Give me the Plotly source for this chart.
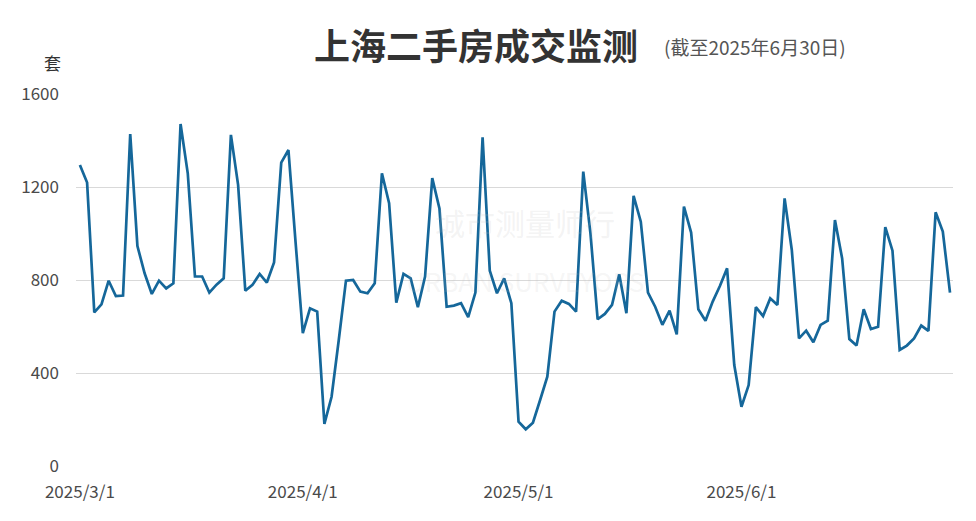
import pandas as pd
import plotly.graph_objects as go

start_date = "2025-03-01"
end_date = "2025-06-30"
volumes = [
    1295, 1219, 661, 695, 797, 731, 733, 1428, 946, 829,
    740, 797, 764, 786, 1471, 1259, 815, 815, 746, 780,
    807, 1424, 1209, 754, 779, 826, 789, 875, 1305, 1359,
    960, 571, 678, 664, 181, 298, 542, 797, 800, 750,
    743, 786, 1259, 1130, 703, 826, 807, 683, 815, 1238,
    1108, 685, 690, 700, 640, 746, 1414, 840, 743, 807,
    700, 191, 158, 186, 284, 384, 664, 711, 697, 664,
    1266, 1001, 631, 654, 693, 825, 657, 1162, 1051, 746,
    685, 607, 668, 566, 1116, 1004, 674, 625, 707, 774,
    850, 434, 255, 348, 683, 645, 721, 693, 1151, 929,
    549, 582, 532, 607, 625, 1058, 893, 546, 518, 674,
    589, 599, 1027, 926, 499, 518, 549, 604, 581, 1091,
    1008, 746,
]
dates = pd.date_range(start_date, end_date, freq="D")
tick_dates = ["2025-03-01", "2025-04-01", "2025-05-01", "2025-06-01"]
tick_labels = ["2025/3/1", "2025/4/1", "2025/5/1", "2025/6/1"]
y_ticks = [0, 400, 800, 1200, 1600]

title_text = "上海二手房成交监测"
subtitle_text = "(截至2025年6月30日)"
unit_text = "套"

font_family = "Noto Sans CJK SC, Noto Sans, sans-serif"

W, H = 976, 521
ML, MR, MT, MB = 76, 23, 94, 55

fig = go.Figure()
fig.add_trace(go.Scatter(
    x=dates, y=volumes, mode="lines",
    line=dict(color="#15679a", width=2.7),
    hoverinfo="x+y", showlegend=False,
))

fig.update_layout(
    width=W, height=H,
    margin=dict(l=ML, r=MR, t=MT, b=MB, autoexpand=False),
    paper_bgcolor="white", plot_bgcolor="white",
    font=dict(family=font_family, color="#444"),
    xaxis=dict(
        range=[pd.Timestamp("2025-02-28 11:00"), pd.Timestamp("2025-06-30 10:00")],
        tickvals=pd.to_datetime(tick_dates), ticktext=tick_labels,
        showgrid=False, zeroline=False, showline=False, ticks="",
        tickfont=dict(size=17, color="#4a4a4a"), ticklabelstandoff=14,
    ),
    yaxis=dict(
        range=[0, 1600], tickvals=y_ticks,
        showgrid=True, gridcolor="#d9d9d9", gridwidth=1,
        zeroline=False, showline=False, ticks="",
        tickfont=dict(size=17, color="#4a4a4a"), ticklabelstandoff=16,
    ),
)

def px_ann(text, px, py, size, color, bold=False):
    plot_w = W - ML - MR
    plot_h = H - MT - MB
    fig.add_annotation(
        text=("<b>" + text + "</b>") if bold else text,
        x=(px - ML) / plot_w, y=1 - (py - MT) / plot_h,
        xref="paper", yref="paper", xanchor="center", yanchor="middle",
        showarrow=False, font=dict(size=size, color=color, family=font_family),
    )

px_ann(title_text, 476, 44, 36, "#333", bold=True)
px_ann(subtitle_text, 755, 47, 19, "#555")
px_ann(unit_text, 52, 62, 17, "#333")
px_ann("城市测量师行", 525, 222, 30, "rgba(190,190,190,0.18)")
px_ann("URBAN SURVEYORS", 525, 280, 26, "rgba(190,190,190,0.15)")

fig.write_html("out.html", config={"displayModeBar": False})
with open("out.html", encoding="utf-8") as f:
    html = f.read()
html = html.replace("<body>", '<body style="margin:0;padding:0;overflow:hidden">', 1)
with open("out.html", "w", encoding="utf-8") as f:
    f.write(html)
